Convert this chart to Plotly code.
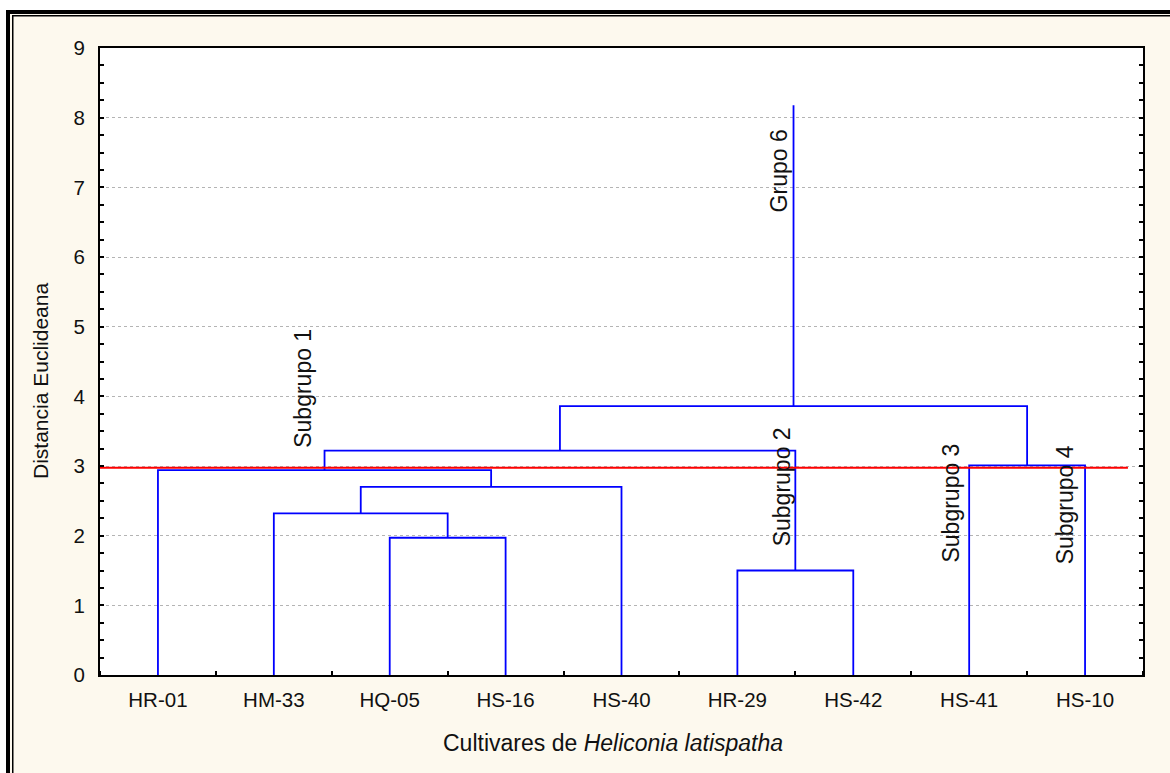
import plotly.graph_objects as go

# ---- data ----
leaves = ["HR-01", "HM-33", "HQ-05", "HS-16", "HS-40", "HR-29", "HS-42", "HS-41", "HS-10"]
# merges: node ids 0..8 are leaves, new clusters get ids 9, 10, ...
merge_left = [2, 5, 1, 11, 0, 7, 13, 15]
merge_right = [3, 6, 9, 4, 12, 8, 10, 14]
merge_height = [1.97, 1.50, 2.32, 2.70, 2.94, 3.01, 3.22, 3.86]
root_top = 8.18
cut_height = 2.975
group_labels = ["Grupo 6", "Subgrupo 1", "Subgrupo 2", "Subgrupo 3", "Subgrupo 4"]
group_label_x = [6.36, 2.25, 6.38, 7.84, 8.83]
group_label_y = [7.23, 4.12, 2.70, 2.47, 2.44]

# ---- dendrogram geometry from data ----
pos = {i: float(i + 1) for i in range(len(leaves))}
hgt = {i: 0.0 for i in range(len(leaves))}
xs, ys = [], []
nid = len(leaves)
for a, b, h in zip(merge_left, merge_right, merge_height):
    xs += [pos[a], pos[a], pos[b], pos[b], None]
    ys += [hgt[a], h, h, hgt[b], None]
    pos[nid] = (pos[a] + pos[b]) / 2
    hgt[nid] = h
    nid += 1
root = nid - 1
xs += [pos[root], pos[root], None]
ys += [hgt[root], root_top, None]

BLUE = "#0000FF"
CREAM = "#FDF9EE"
FONT = "Liberation Sans, Arial, sans-serif"
TXT = "#111111"

fig = go.Figure()
fig.add_trace(go.Scatter(x=xs, y=ys, mode="lines", line=dict(color=BLUE, width=1.8),
                         hoverinfo="skip", showlegend=False))
fig.add_trace(go.Scatter(x=[0.5, 9.37], y=[cut_height, cut_height], mode="lines",
                         line=dict(color="#FF0000", width=2), hoverinfo="skip", showlegend=False))

for t, x, y in zip(group_labels, group_label_x, group_label_y):
    fig.add_annotation(x=x, y=y, text=t, textangle=-90, showarrow=False,
                       xanchor="center", yanchor="middle",
                       font=dict(family=FONT, size=23, color=TXT))

W, H = 1170, 773
ml, mr, mt, mb = 100, 27, 48, 98
pw, ph = W - ml - mr, H - mt - mb


def px2x(px):
    return (px - ml) / pw


def py2y(py):
    return (H - mb - py) / ph


# axis titles
fig.add_annotation(xref="paper", yref="paper", x=px2x(613), y=py2y(743),
                   xanchor="center", yanchor="middle",
                   text="Cultivares de <i>Heliconia latispatha</i>", showarrow=False,
                   font=dict(family=FONT, size=23, color=TXT))
fig.add_annotation(xref="paper", yref="paper", x=px2x(40), y=py2y(381),
                   xanchor="center", yanchor="middle",
                   text="Distancia Euclideana", textangle=-90, showarrow=False,
                   font=dict(family=FONT, size=21, color=TXT))

# outer white strip and double border
shapes = []
shapes.append(dict(type="rect", xref="paper", yref="paper", x0=px2x(0), x1=px2x(6),
                   y0=py2y(H), y1=py2y(0), fillcolor="white", line=dict(width=0), layer="below"))
shapes.append(dict(type="rect", xref="paper", yref="paper", x0=px2x(0), x1=px2x(W),
                   y0=py2y(10), y1=py2y(0), fillcolor="white", line=dict(width=0), layer="below"))
for (x0, x1, y0, y1) in [(6, 10, 10, H), (12, 13.5, 15, H), (6, W, 10, 14), (12, W, 15, 16.5)]:
    shapes.append(dict(type="rect", xref="paper", yref="paper", x0=px2x(x0), x1=px2x(x1),
                       y0=py2y(y1), y1=py2y(y0), fillcolor="black", line=dict(width=0)))
fig.update_layout(shapes=shapes)

fig.update_layout(
    width=W, height=H,
    margin=dict(l=ml, r=mr, t=mt, b=mb, pad=0),
    paper_bgcolor=CREAM, plot_bgcolor="white",
    font=dict(family=FONT, size=20, color=TXT),
    showlegend=False,
)
fig.update_xaxes(
    range=[0.5, 9.5], tickvals=list(range(1, len(leaves) + 1)), ticktext=leaves,
    ticks="", showgrid=False, zeroline=False,
    showline=True, linecolor="black", linewidth=2, mirror=True,
    tickfont=dict(family=FONT, size=20.5, color=TXT), ticklabelstandoff=5,
    minor=dict(ticks="inside", tick0=0.5, dtick=1, ticklen=4, tickcolor="black", tickwidth=2, showgrid=False),
)
fig.update_yaxes(
    range=[0, 9], tickvals=list(range(0, 10)), ticks="inside", ticklen=4, tickwidth=2, tickcolor="black",
    showgrid=True, gridcolor="#B4B4B4", gridwidth=1, griddash="dot", zeroline=False,
    showline=True, linecolor="black", linewidth=2, mirror="ticks",
    tickfont=dict(family=FONT, size=20.5, color=TXT), ticklabelstandoff=9,
    minor=dict(ticks="inside", dtick=0.25, ticklen=4, tickcolor="black", tickwidth=1.5, showgrid=False),
)

fig.write_html("out.html", config={"displayModeBar": False},
               post_script="document.body.style.margin='0';document.body.style.padding='0';")
